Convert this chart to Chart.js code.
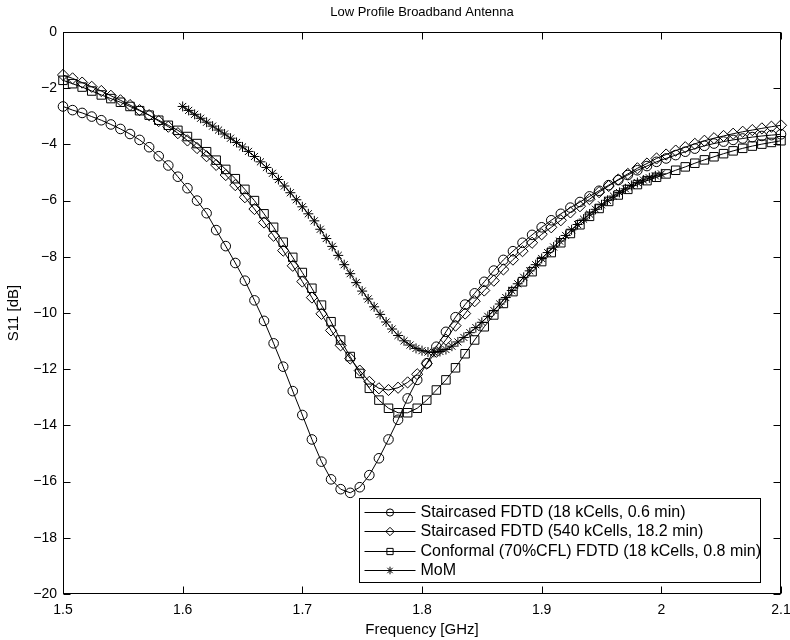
<!DOCTYPE html>
<html>
<head>
<meta charset="utf-8">
<script src="https://cdn.jsdelivr.net/npm/chart.js@4.4.1/dist/chart.umd.min.js"></script>
<style>
body { margin: 0; background: #fff; }
canvas { display: block; }
</style>
</head>
<body>
<canvas id="chart" width="790" height="640"></canvas>
<script>
var FONT = "'Liberation Sans', Arial, Helvetica, sans-serif";

// frequency grid of the FDTD runs [GHz]
var freqFdtd = [1.500, 1.508, 1.516, 1.524, 1.532, 1.540, 1.548, 1.556, 1.564, 1.572,
    1.580, 1.588, 1.596, 1.604, 1.612, 1.620, 1.628, 1.636, 1.644, 1.652,
    1.660, 1.668, 1.676, 1.684, 1.692, 1.700, 1.708, 1.716, 1.724, 1.732,
    1.740, 1.748, 1.756, 1.764, 1.772, 1.780, 1.788, 1.796, 1.804, 1.812,
    1.820, 1.828, 1.836, 1.844, 1.852, 1.860, 1.868, 1.876, 1.884, 1.892,
    1.900, 1.908, 1.916, 1.924, 1.932, 1.940, 1.948, 1.956, 1.964, 1.972,
    1.980, 1.988, 1.996, 2.004, 2.012, 2.020, 2.028, 2.036, 2.044, 2.052,
    2.060, 2.068, 2.076, 2.084, 2.092, 2.100];

// S11 [dB]
var stairCoarse = [-2.65, -2.78, -2.88, -3.01, -3.14, -3.29, -3.45, -3.63, -3.84, -4.10,
    -4.42, -4.75, -5.15, -5.56, -6.00, -6.45, -7.05, -7.62, -8.22, -8.85,
    -9.55, -10.28, -11.08, -11.91, -12.78, -13.63, -14.50, -15.29, -15.92, -16.27,
    -16.40, -16.20, -15.77, -15.17, -14.50, -13.80, -13.04, -12.38, -11.79, -11.20,
    -10.67, -10.15, -9.70, -9.30, -8.89, -8.49, -8.11, -7.80, -7.50, -7.22,
    -6.95, -6.70, -6.47, -6.25, -6.05, -5.85, -5.65, -5.45, -5.27, -5.09,
    -4.92, -4.77, -4.62, -4.50, -4.38, -4.26, -4.15, -4.05, -3.97, -3.90,
    -3.84, -3.79, -3.74, -3.70, -3.67, -3.64];

var stairFine = [-1.53, -1.65, -1.80, -1.95, -2.10, -2.27, -2.43, -2.60, -2.78, -2.96,
    -3.17, -3.37, -3.60, -3.86, -4.13, -4.42, -4.73, -5.09, -5.45, -5.88,
    -6.30, -6.78, -7.25, -7.78, -8.32, -8.88, -9.45, -10.03, -10.62, -11.15,
    -11.62, -12.05, -12.45, -12.68, -12.74, -12.66, -12.47, -12.18, -11.80, -11.38,
    -10.95, -10.45, -10.02, -9.58, -9.20, -8.85, -8.45, -8.10, -7.80, -7.50,
    -7.20, -6.95, -6.70, -6.42, -6.20, -5.95, -5.70, -5.48, -5.25, -5.05,
    -4.85, -4.68, -4.50, -4.36, -4.22, -4.10, -3.98, -3.87, -3.78, -3.70,
    -3.62, -3.55, -3.49, -3.43, -3.37, -3.32];

var conformal = [-1.72, -1.84, -1.96, -2.10, -2.24, -2.37, -2.50, -2.65, -2.80, -2.96,
    -3.14, -3.32, -3.50, -3.72, -3.97, -4.26, -4.56, -4.89, -5.22, -5.60,
    -6.00, -6.47, -6.95, -7.48, -8.02, -8.56, -9.12, -9.72, -10.31, -10.96,
    -11.55, -12.15, -12.68, -13.10, -13.39, -13.55, -13.55, -13.39, -13.10, -12.74,
    -12.38, -11.95, -11.45, -10.96, -10.49, -10.07, -9.66, -9.24, -8.89, -8.53,
    -8.17, -7.85, -7.50, -7.17, -6.86, -6.56, -6.28, -6.03, -5.80, -5.60,
    -5.43, -5.29, -5.17, -5.05, -4.92, -4.80, -4.67, -4.55, -4.44, -4.33,
    -4.23, -4.14, -4.06, -3.99, -3.93, -3.87];

// MoM reference, finer grid
var freqMom = [1.600, 1.605, 1.610, 1.615, 1.620, 1.625, 1.630, 1.635, 1.640, 1.645,
    1.650, 1.655, 1.660, 1.665, 1.670, 1.675, 1.680, 1.685, 1.690, 1.695,
    1.700, 1.705, 1.710, 1.715, 1.720, 1.725, 1.730, 1.735, 1.740, 1.745,
    1.750, 1.755, 1.760, 1.765, 1.770, 1.775, 1.780, 1.785, 1.790, 1.795,
    1.800, 1.805, 1.810, 1.815, 1.820, 1.825, 1.830, 1.835, 1.840, 1.845,
    1.850, 1.855, 1.860, 1.865, 1.870, 1.875, 1.880, 1.885, 1.890, 1.895,
    1.900, 1.905, 1.910, 1.915, 1.920, 1.925, 1.930, 1.935, 1.940, 1.945,
    1.950, 1.955, 1.960, 1.965, 1.970, 1.975, 1.980, 1.985, 1.990, 1.995,
    2.000];

var mom = [-2.65, -2.79, -2.93, -3.07, -3.21, -3.35, -3.49, -3.63, -3.78, -3.93,
    -4.09, -4.25, -4.43, -4.62, -4.82, -5.03, -5.25, -5.48, -5.72, -5.97,
    -6.22, -6.47, -6.72, -7.02, -7.35, -7.63, -7.95, -8.28, -8.60, -8.92,
    -9.22, -9.50, -9.78, -10.05, -10.32, -10.57, -10.80, -10.99, -11.14, -11.26,
    -11.34, -11.39, -11.40, -11.37, -11.30, -11.18, -11.03, -10.87, -10.70, -10.52,
    -10.33, -10.12, -9.91, -9.68, -9.45, -9.20, -8.96, -8.73, -8.50, -8.28,
    -8.06, -7.85, -7.65, -7.44, -7.24, -7.04, -6.85, -6.66, -6.48, -6.31,
    -6.15, -5.99, -5.84, -5.71, -5.58, -5.46, -5.36, -5.27, -5.19, -5.12,
    -5.05];

var seriesNames = [
    'Staircased FDTD (18 kCells, 0.6 min)',
    'Staircased FDTD (540 kCells, 18.2 min)',
    'Conformal (70%CFL) FDTD (18 kCells, 0.8 min)',
    'MoM'
];
var markers = ['circle', 'rectRot', 'rect', 'star'];
var markerSize = [4.8, 5.6, 6.0, 5.0];
var legendSize = [3.6, 4.2, 4.4, 3.8];

var xTicks = [1.5, 1.6, 1.7, 1.8, 1.9, 2.0, 2.1];

function pts(xs, ys) {
    return xs.map(function(x, i) { return { x: x, y: ys[i] }; });
}

function series(idx, xs, ys) {
    return {
        label: seriesNames[idx],
        data: pts(xs, ys),
        borderColor: '#000',
        borderWidth: 1,
        backgroundColor: 'rgba(0,0,0,0)',
        pointStyle: markers[idx],
        pointRadius: markerSize[idx],
        pointBorderColor: '#000',
        pointBackgroundColor: 'rgba(0,0,0,0)',
        pointBorderWidth: 1,
        tension: 0,
        clip: false
    };
}

function drawMarker(ctx, style, r, x, y) {
    if (Chart.helpers && Chart.helpers.drawPoint) {
        Chart.helpers.drawPoint(ctx, { pointStyle: style, radius: r, rotation: 0, borderWidth: 1 }, x, y);
        return;
    }
    ctx.beginPath();
    ctx.arc(x, y, r, 0, Math.PI * 2);
    ctx.stroke();
}

// box, inward ticks and the legend, matlab style
var framePlugin = {
    id: 'frame',
    afterDraw: function(chart) {
        var ctx = chart.ctx, a = chart.chartArea;
        var xs = chart.scales.x, ys = chart.scales.y;
        var L = Math.round(a.left) + 0.5, R = Math.round(a.right) - 0.5;
        var T = Math.round(a.top) + 0.5, B = Math.round(a.bottom) - 0.5;
        var tl = 7;
        ctx.save();
        ctx.strokeStyle = '#000';
        ctx.lineWidth = 1;
        ctx.strokeRect(L, T, R - L, B - T);
        ctx.beginPath();
        xs.ticks.forEach(function(t) {
            var px = Math.round(xs.getPixelForValue(t.value)) + 0.5;
            ctx.moveTo(px, B); ctx.lineTo(px, B - tl);
            ctx.moveTo(px, T); ctx.lineTo(px, T + tl);
        });
        ys.ticks.forEach(function(t) {
            var py = Math.round(ys.getPixelForValue(t.value)) + 0.5;
            ctx.moveTo(L, py); ctx.lineTo(L + tl, py);
            ctx.moveTo(R, py); ctx.lineTo(R - tl, py);
        });
        ctx.stroke();

        // legend
        var bx = Math.round(a.right) - 421.5, by = Math.round(a.bottom) - 95.5;
        var bw = 401, bh = 84;
        ctx.fillStyle = '#fff';
        ctx.fillRect(bx, by, bw, bh);
        ctx.strokeRect(bx, by, bw, bh);
        ctx.font = '16px ' + FONT;
        ctx.textBaseline = 'middle';
        ctx.textAlign = 'left';
        for (var i = 0; i < seriesNames.length; i++) {
            var ry = Math.round(by + 13.5 + i * 19.3) + 0.5;
            ctx.beginPath();
            ctx.moveTo(bx + 5, ry);
            ctx.lineTo(bx + 56, ry);
            ctx.stroke();
            ctx.fillStyle = 'rgba(0,0,0,0)';
            drawMarker(ctx, markers[i], legendSize[i], bx + 30.5, ry);
            ctx.fillStyle = '#000';
            ctx.fillText(seriesNames[i], bx + 61, ry + 0.5);
        }
        ctx.restore();
    }
};

var chart = new Chart(document.getElementById('chart').getContext('2d'), {
    type: 'line',
    data: {
        datasets: [
            series(0, freqFdtd, stairCoarse),
            series(1, freqFdtd, stairFine),
            series(2, freqFdtd, conformal),
            series(3, freqMom, mom)
        ]
    },
    options: {
        responsive: false,
        animation: false,
        events: [],
        layout: { padding: { left: 0, right: 9, top: 0, bottom: 0 } },
        plugins: {
            legend: { display: false },
            tooltip: { enabled: false },
            title: {
                display: true,
                fullSize: false,
                text: 'Low Profile Broadband Antenna',
                color: '#000',
                font: { family: FONT, size: 13, weight: 'normal' },
                padding: { top: 5, bottom: 11.4 }
            }
        },
        scales: {
            x: {
                type: 'linear',
                min: 1.5,
                max: 2.1,
                grid: { display: false, drawTicks: false },
                border: { display: false },
                afterBuildTicks: function(s) {
                    s.ticks = xTicks.map(function(v) { return { value: v }; });
                },
                afterFit: function(s) { s.height = 46; s.paddingLeft = 0; s.paddingRight = 0; },
                ticks: {
                    color: '#000',
                    padding: 8,
                    maxRotation: 0,
                    autoSkip: false,
                    font: { family: FONT, size: 14 },
                    callback: function(v) { return String(Number(v.toFixed(1))); }
                },
                title: {
                    display: true,
                    text: 'Frequency [GHz]',
                    color: '#000',
                    font: { family: FONT, size: 15 },
                    padding: { top: 0, bottom: 1 }
                }
            },
            y: {
                min: -20,
                max: 0,
                grid: { display: false, drawTicks: false },
                border: { display: false },
                afterFit: function(s) { s.width = 63; s.paddingTop = 0; s.paddingBottom = 0; },
                ticks: {
                    stepSize: 2,
                    color: '#000',
                    padding: 6,
                    font: { family: FONT, size: 14 },
                    callback: function(v) { return (v < 0 ? '\u2212' : '') + Math.abs(v); }
                },
                title: {
                    display: true,
                    text: 'S11 [dB]',
                    color: '#000',
                    font: { family: FONT, size: 15 },
                    padding: { top: 5, bottom: 0 }
                }
            }
        }
    },
    plugins: [framePlugin]
});
</script>
</body>
</html>
